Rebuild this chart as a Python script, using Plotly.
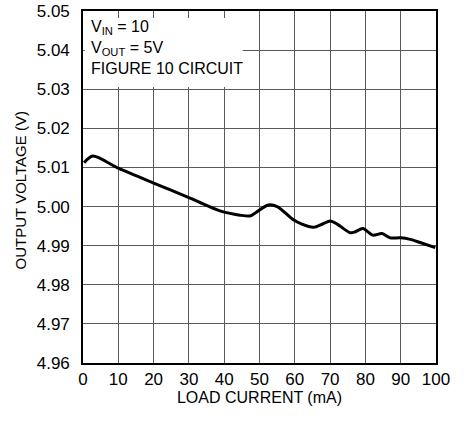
import plotly.graph_objects as go

load_ma = [0.3, 2.8, 10, 20, 30, 33, 38.8, 44.5, 47.3, 49, 52.5, 55, 59.6, 62, 65.3, 68, 70, 72,
           75.7, 77, 79.3, 82.1, 84.7, 87, 89.9, 92.7, 95.5, 99.8]
vout = [5.0112, 5.0129, 5.0098, 5.0060, 5.0023, 5.0011, 4.9989, 4.9978, 4.9976, 4.9985, 5.0004,
        5.0000, 4.9966, 4.9955, 4.9947, 4.9956, 4.9963, 4.9955, 4.9933, 4.9935, 4.9944, 4.9927,
        4.9931, 4.9920, 4.9920, 4.9916, 4.9908, 4.9895]

x_ticks = list(range(0, 101, 10))
y_ticks = [4.96, 4.97, 4.98, 4.99, 5.00, 5.01, 5.02, 5.03, 5.04, 5.05]
y_labels = ["4.96", "4.97", "4.98", "4.99", "5.00", "5.01", "5.02", "5.03", "5.04", "5.05"]

FONT = "Liberation Sans Narrow, Arial Narrow, Liberation Sans, sans-serif"

fig = go.Figure()
fig.add_trace(go.Scatter(x=load_ma, y=vout, mode="lines",
                         line=dict(color="black", width=3, shape="spline", smoothing=0.8),
                         hoverinfo="skip", showlegend=False))

fig.add_shape(type="rect", xref="x", yref="y", x0=0.5, x1=45.2, y0=5.0306, y1=5.0482,
              fillcolor="white", line=dict(width=0), layer="above")

fig.add_annotation(xref="x", yref="y", x=1.7, y=5.0486, xanchor="left", yanchor="top",
                   align="left", showarrow=False,
                   text="V<sub>IN</sub> = 10<br>V<sub>OUT</sub> = 5V<br>FIGURE 10 CIRCUIT",
                   font=dict(family=FONT, size=16, color="black"))

fig.add_annotation(xref="paper", yref="paper", x=-0.176, y=0.49, xanchor="center", yanchor="middle",
                   textangle=-90, showarrow=False, text="OUTPUT VOLTAGE (V)",
                   font=dict(family=FONT, size=15, color="black"))

axis_common = dict(showgrid=True, gridcolor="#5a5a5a", gridwidth=1, zeroline=False,
                   showline=True, linecolor="black", linewidth=1.6, mirror=True,
                   automargin=False, tickfont=dict(size=17))

fig.update_layout(
    template="none",
    width=465, height=421,
    margin=dict(l=83, r=29, t=11, b=58, autoexpand=False),
    paper_bgcolor="white", plot_bgcolor="white",
    font=dict(family=FONT, size=17, color="black"),
    xaxis=dict(range=[0, 100], tickvals=x_ticks, ticks="",
               title=dict(text="LOAD CURRENT (mA)", font=dict(size=16), standoff=4),
               **axis_common),
    yaxis=dict(range=[4.96, 5.05], tickvals=y_ticks, ticktext=y_labels,
               ticks="outside", ticklen=8, tickcolor="white", tickwidth=1,
               **axis_common),
)

fig.write_html("out.html", config={"displayModeBar": False},
               post_script="document.body.style.margin='0px';")
